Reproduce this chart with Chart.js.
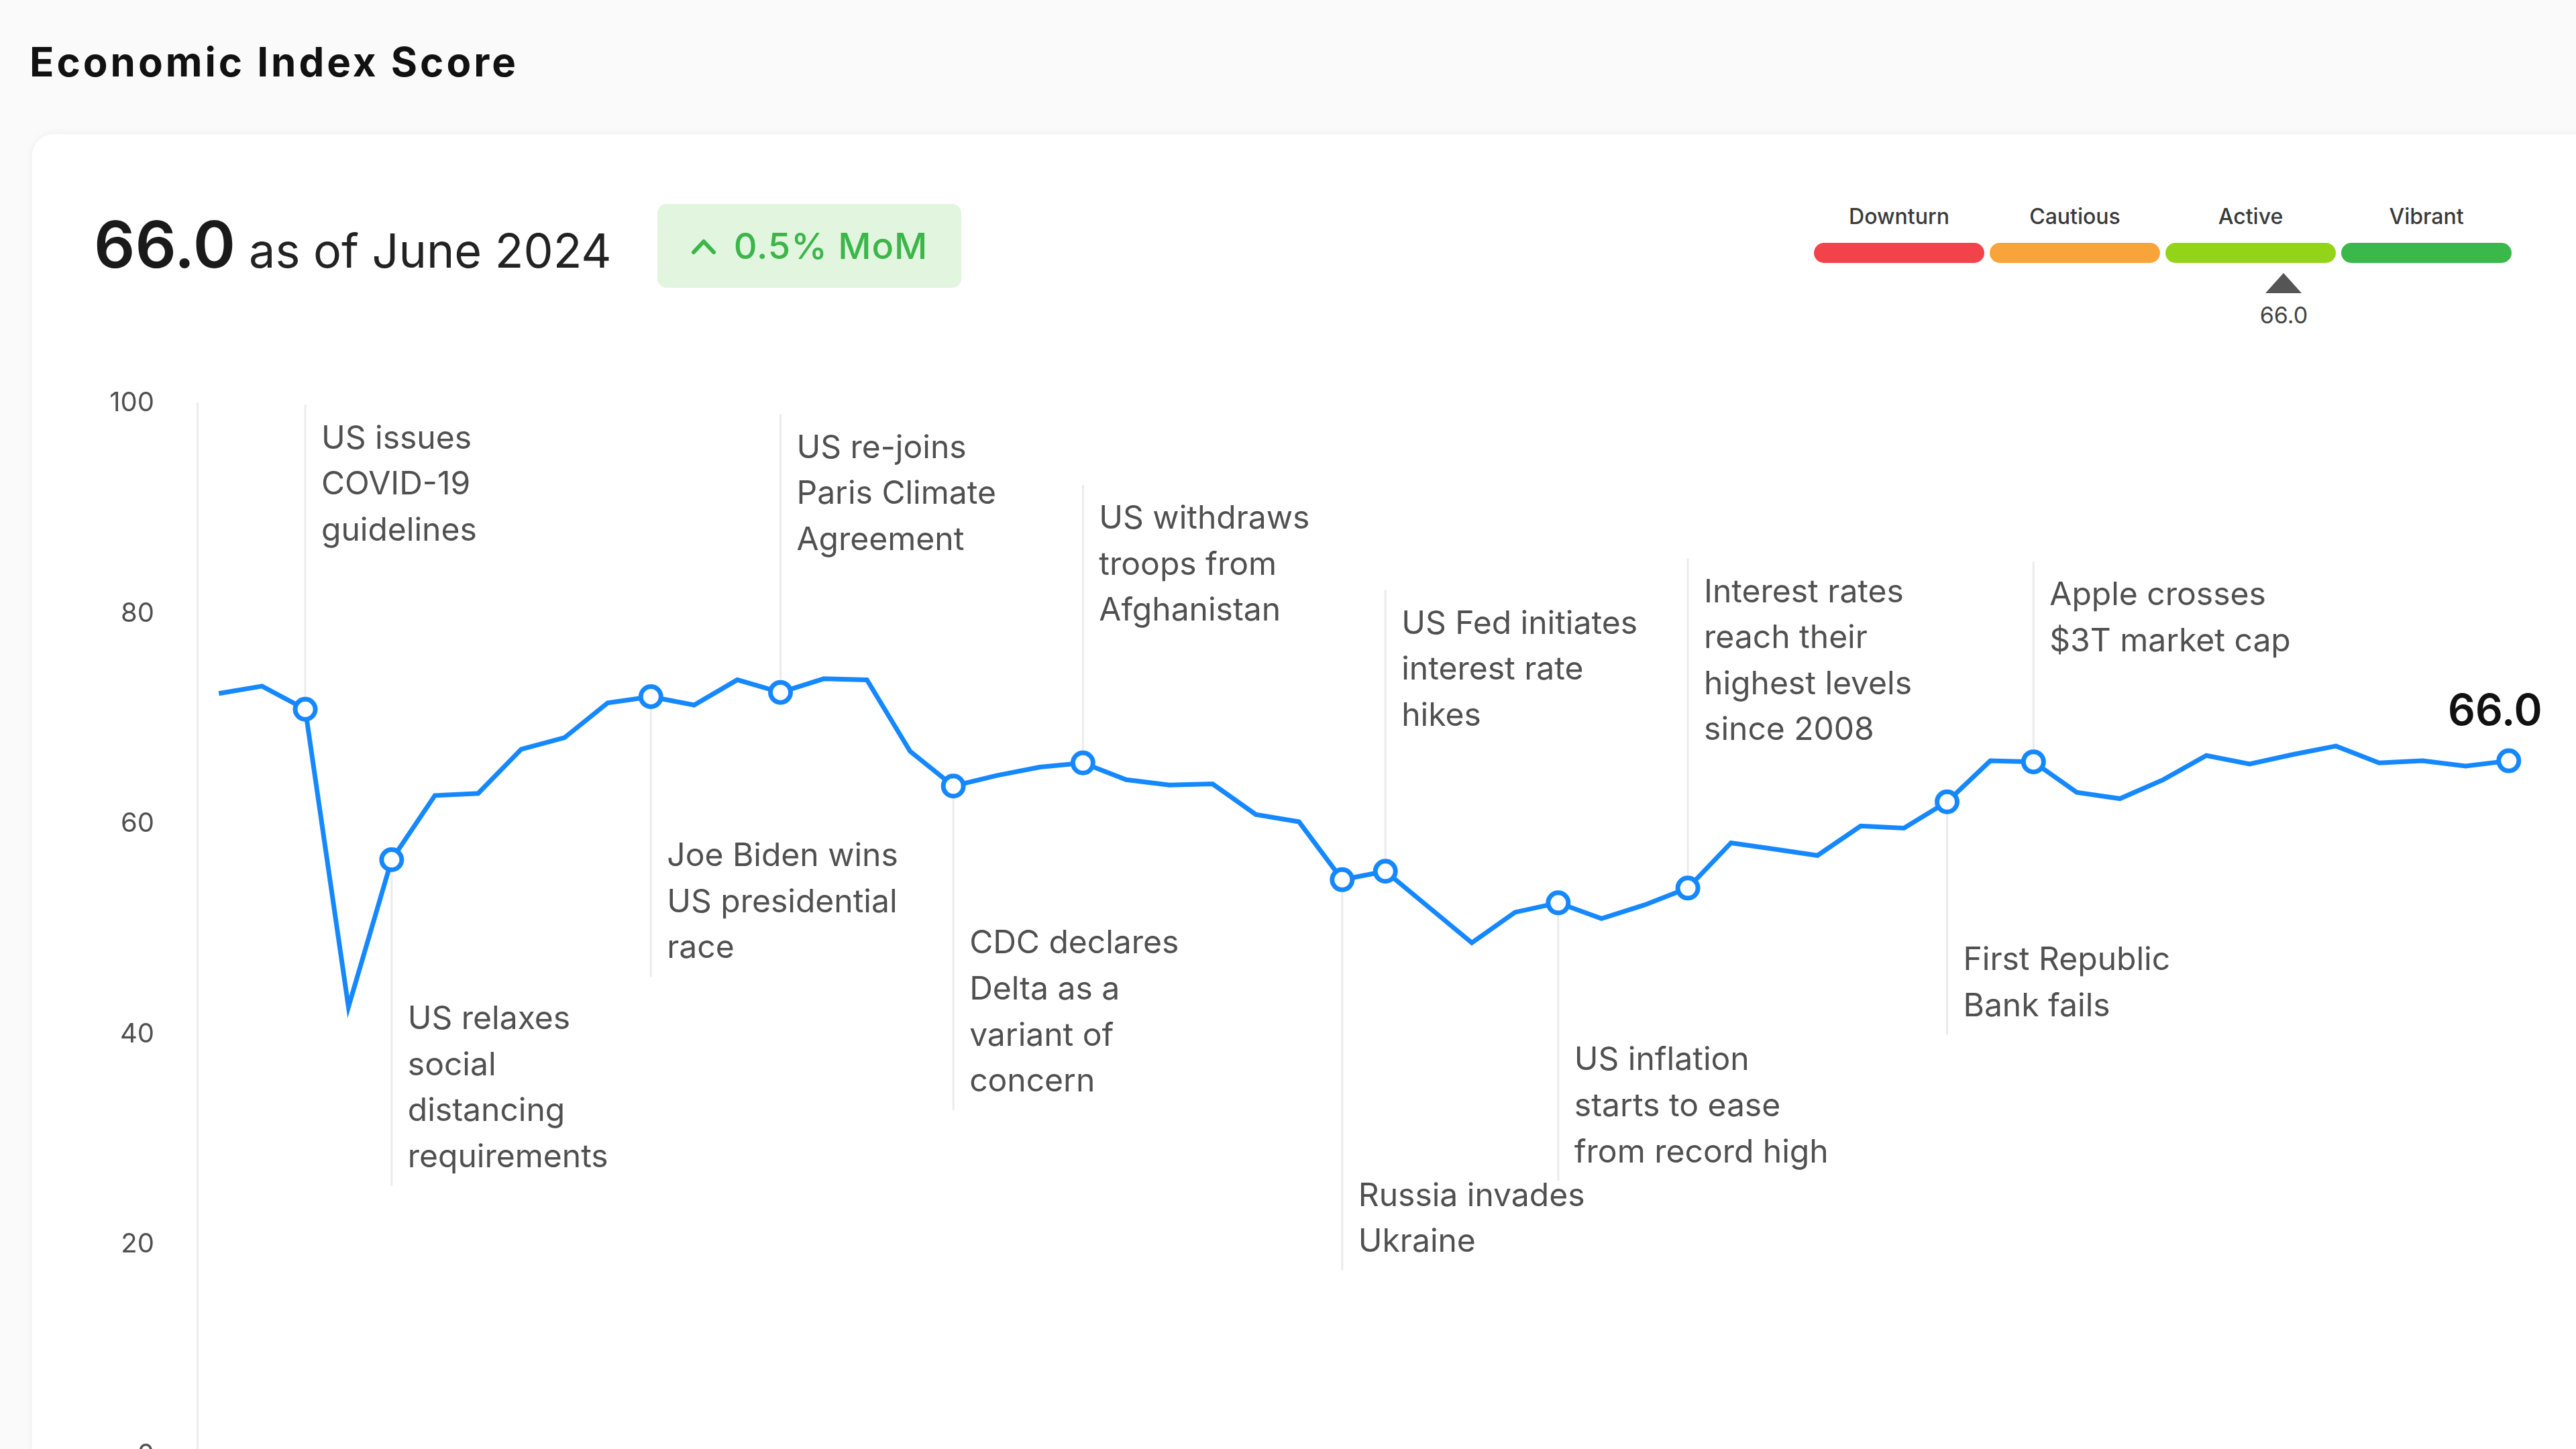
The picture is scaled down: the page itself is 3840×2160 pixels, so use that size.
<!DOCTYPE html>
<html>
<head>
<meta charset="utf-8">
<title>Economic Index Score</title>
<script src="https://cdn.jsdelivr.net/npm/chart.js@4.4.1/dist/chart.umd.min.js"></script>
<style>
    html, body {
        margin: 0;
        padding: 0;
        width: 3840px;
        height: 2160px;
        overflow: hidden;
        background: #fafafa;
        font-family: Inter, 'Noto Sans', sans-serif;
    }
    #title {
        position: absolute;
        left: 44px;
        top: 62px;
        font-size: 60px;
        line-height: 1;
        font-weight: 700;
        color: #111;
        letter-spacing: 4px;
    }
    #card {
        position: absolute;
        left: 48px;
        top: 200px;
        width: 3860px;
        height: 2100px;
        background: #fff;
        border-radius: 32px;
        box-shadow: 0 0 14px rgba(0, 0, 0, 0.05);
    }
    #headline {
        position: absolute;
        left: 140px;
        top: 316px;
        display: flex;
        align-items: baseline;
        line-height: 1;
        color: #1a1a1a;
    }
    #headline .big {
        font-size: 96px;
        font-weight: 600;
    }
    #headline .asof {
        font-size: 70px;
        margin-left: 20px;
        color: #222;
    }
    #badge {
        position: absolute;
        left: 980px;
        top: 304px;
        width: 453px;
        height: 125px;
        border-radius: 14px;
        background: #e2f5df;
        display: flex;
        align-items: center;
        justify-content: center;
        gap: 26px;
        color: #3cb54a;
        font-size: 54px;
        font-weight: 500;
        letter-spacing: 1px;
    }
    .gauge-label {
        position: absolute;
        top: 304px;
        width: 254px;
        text-align: center;
        font-size: 32px;
        line-height: 38px;
        font-weight: 500;
        color: #3a3a3a;
    }
    .gauge-bar {
        position: absolute;
        top: 362px;
        width: 254px;
        height: 30px;
        border-radius: 15px;
    }
    #gaugeMarker {
        position: absolute;
        top: 407px;
        width: 0;
        height: 0;
        border-left: 27px solid transparent;
        border-right: 27px solid transparent;
        border-bottom: 30px solid #555;
    }
    #gaugeValue {
        position: absolute;
        top: 452px;
        width: 120px;
        text-align: center;
        font-size: 34px;
        line-height: 36px;
        color: #444;
    }
    #chart {
        position: absolute;
        left: 0;
        top: 0;
    }
</style>
</head>
<body>
<div id="title">Economic Index Score</div>
<div id="card"></div>
<div id="headline"><span class="big" id="scoreNow"></span><span class="asof" id="asOf"></span></div>
<div id="badge"><svg width="38" height="26" viewBox="0 0 38 26"><polyline points="4,22 19,6 34,22" fill="none" stroke="#3cb54a" stroke-width="6" stroke-linecap="round" stroke-linejoin="round"/></svg><span id="mom"></span></div>
<div id="gauge"></div>
<canvas id="chart" width="3840" height="2249"></canvas>

<script>
// Monthly index values, Jan 2020 - Jun 2024
const months = [
    'Jan 2020', 'Feb 2020', 'Mar 2020', 'Apr 2020', 'May 2020', 'Jun 2020', 'Jul 2020', 'Aug 2020', 'Sep 2020', 'Oct 2020', 'Nov 2020', 'Dec 2020',
    'Jan 2021', 'Feb 2021', 'Mar 2021', 'Apr 2021', 'May 2021', 'Jun 2021', 'Jul 2021', 'Aug 2021', 'Sep 2021', 'Oct 2021', 'Nov 2021', 'Dec 2021',
    'Jan 2022', 'Feb 2022', 'Mar 2022', 'Apr 2022', 'May 2022', 'Jun 2022', 'Jul 2022', 'Aug 2022', 'Sep 2022', 'Oct 2022', 'Nov 2022', 'Dec 2022',
    'Jan 2023', 'Feb 2023', 'Mar 2023', 'Apr 2023', 'May 2023', 'Jun 2023', 'Jul 2023', 'Aug 2023', 'Sep 2023', 'Oct 2023', 'Nov 2023', 'Dec 2023',
    'Jan 2024', 'Feb 2024', 'Mar 2024', 'Apr 2024', 'May 2024', 'Jun 2024'
];

const scores = [
    72.4, 73.1, 70.9, 42.6, 56.6, 62.7, 62.9, 67.1, 68.2, 71.5, 72.1, 71.3,
    73.7, 72.5, 73.8, 73.7, 66.9, 63.6, 64.6, 65.4, 65.8, 64.2, 63.7, 63.8,
    60.9, 60.2, 54.7, 55.5, 52.1, 48.7, 51.6, 52.5, 51.0, 52.3, 53.9, 58.2,
    57.6, 57.0, 59.8, 59.6, 62.1, 66.0, 65.9, 63.0, 62.4, 64.2, 66.5, 65.7,
    66.6, 67.4, 65.8, 66.0, 65.5, 66.0
];

const yTicks = [0, 20, 40, 60, 80, 100];

// Events marked on the line (index into months)
const eventIndex = [2, 4, 10, 13, 17, 20, 26, 27, 31, 34, 40, 42];
const eventText = [
    ['US issues', 'COVID-19', 'guidelines'],
    ['US relaxes', 'social', 'distancing', 'requirements'],
    ['Joe Biden wins', 'US presidential', 'race'],
    ['US re-joins', 'Paris Climate', 'Agreement'],
    ['CDC declares', 'Delta as a', 'variant of', 'concern'],
    ['US withdraws', 'troops from', 'Afghanistan'],
    ['Russia invades', 'Ukraine'],
    ['US Fed initiates', 'interest rate', 'hikes'],
    ['US inflation', 'starts to ease', 'from record high'],
    ['Interest rates', 'reach their', 'highest levels', 'since 2008'],
    ['First Republic', 'Bank fails'],
    ['Apple crosses', '$3T market cap']
];

const currentScore = 66.0;
const currentLabel = 'June 2024';
const momChange = 0.5;

const gaugeLabels = ['Downturn', 'Cautious', 'Active', 'Vibrant'];

// layout / style settings (not data)
const eventLabelAt = [96.6, 41.4, 56.9, 95.7, 48.6, 89.0, 24.6, 79.0, 37.5, 82.0, 47.0, 81.7]; // first text line, in axis units
const gaugeColors = ['#f2434b', '#f8a43a', '#93d419', '#3bb84a'];
const LINE_COLOR = '#1688ff';
const TEXT_COLOR = '#505050';
const LINE_H = 68.6;

// header
document.getElementById('scoreNow').textContent = currentScore.toFixed(1);
document.getElementById('asOf').textContent = 'as of ' + currentLabel;
document.getElementById('mom').textContent = momChange.toFixed(1) + '% MoM';

// gauge
const gauge = document.getElementById('gauge');
const gaugeLeft = 2704, gaugeSeg = 254, gaugeGap = 8;
gaugeLabels.forEach((name, i) => {
    const left = gaugeLeft + i * (gaugeSeg + gaugeGap);
    const label = document.createElement('div');
    label.className = 'gauge-label';
    label.style.left = left + 'px';
    label.textContent = name;
    gauge.appendChild(label);

    const bar = document.createElement('div');
    bar.className = 'gauge-bar';
    bar.style.left = left + 'px';
    bar.style.background = gaugeColors[i];
    gauge.appendChild(bar);
});
const gaugeWidth = 4 * gaugeSeg + 3 * gaugeGap;
const markerX = gaugeLeft + gaugeWidth * currentScore / 100 + 14;
const marker = document.createElement('div');
marker.id = 'gaugeMarker';
marker.style.left = (markerX - 27) + 'px';
gauge.appendChild(marker);
const markerVal = document.createElement('div');
markerVal.id = 'gaugeValue';
markerVal.style.left = (markerX - 60) + 'px';
markerVal.textContent = currentScore.toFixed(1);
gauge.appendChild(markerVal);

// event connectors and captions, drawn under the line
const eventLabels = {
    id: 'eventLabels',
    beforeDatasetsDraw(chart) {
        const { ctx, scales: { x, y } } = chart;
        ctx.save();
        ctx.font = '48px Inter';
        ctx.textBaseline = 'middle';
        ctx.textAlign = 'left';
        eventIndex.forEach((idx, i) => {
            const px = x.getPixelForValue(idx);
            const py = y.getPixelForValue(scores[idx]);
            const firstY = y.getPixelForValue(eventLabelAt[i]);
            const lines = eventText[i];
            const lastY = firstY + (lines.length - 1) * LINE_H;

            ctx.strokeStyle = '#ebebeb';
            ctx.lineWidth = 3;
            ctx.beginPath();
            if (firstY < py) {
                ctx.moveTo(px, firstY - 51);
                ctx.lineTo(px, py);
            } else {
                ctx.moveTo(px, py);
                ctx.lineTo(px, lastY + 42);
            }
            ctx.stroke();

            ctx.fillStyle = TEXT_COLOR;
            lines.forEach((t, j) => ctx.fillText(t, px + 24, firstY + j * LINE_H));
        });
        ctx.restore();
    },
    afterDatasetsDraw(chart) {
        // latest value above the last point
        const { ctx, scales: { x, y } } = chart;
        const last = scores.length - 1;
        ctx.save();
        ctx.font = '600 64px Inter';
        ctx.fillStyle = '#111';
        ctx.textAlign = 'right';
        ctx.textBaseline = 'middle';
        ctx.fillText(scores[last].toFixed(1), x.getPixelForValue(last) + 50, y.getPixelForValue(scores[last]) - 72);
        ctx.restore();
    }
};

function buildChart() {
    const markerSet = new Set(eventIndex.concat([scores.length - 1]));
    const radii = scores.map((v, i) => markerSet.has(i) ? 15 : 0);

    new Chart(document.getElementById('chart'), {
        type: 'line',
        data: {
            labels: months,
            datasets: [{
                label: 'Economic Index Score',
                data: scores,
                borderColor: LINE_COLOR,
                borderWidth: 7,
                tension: 0,
                fill: false,
                pointRadius: radii,
                pointBorderWidth: 7,
                pointBorderColor: LINE_COLOR,
                pointBackgroundColor: '#ffffff'
            }]
        },
        options: {
            responsive: false,
            animation: false,
            devicePixelRatio: 1,
            layout: {
                padding: { top: 601, right: 68, bottom: 35, left: 0 }
            },
            plugins: {
                legend: { display: false },
                tooltip: { enabled: false }
            },
            scales: {
                x: {
                    display: false,
                    offset: true
                },
                y: {
                    min: 0,
                    max: 100,
                    afterBuildTicks: scale => {
                        scale.ticks = yTicks.map(v => ({ value: v }));
                    },
                    afterFit: scale => {
                        scale.width = 294;
                    },
                    ticks: {
                        color: TEXT_COLOR,
                        padding: 56,
                        font: { family: 'Inter', size: 40 }
                    },
                    grid: { display: false },
                    border: { display: true, color: '#ececec', width: 3 }
                }
            }
        },
        plugins: [eventLabels]
    });
}

Promise.all([
    document.fonts.load('48px Inter'),
    document.fonts.load('600 64px Inter')
]).then(buildChart, buildChart);
</script>
</body>
</html>
